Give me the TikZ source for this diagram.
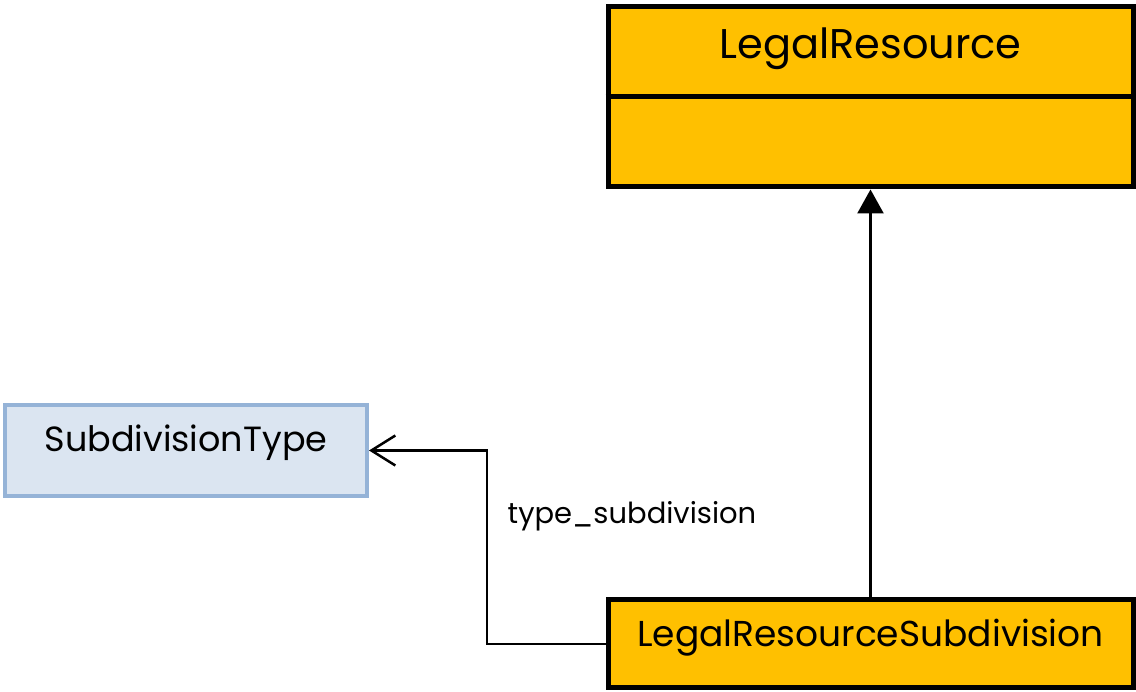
\documentclass[tikz,border=0pt]{standalone}
\usepackage{fontspec}
\setmainfont{Poppins}
\usetikzlibrary{arrows.meta}
\definecolor{classorange}{HTML}{FFC000}
\definecolor{typefill}{HTML}{DBE5F1}
\definecolor{typeline}{HTML}{95B3D7}
\tikzset{
  classbox/.style={draw=black,line width=5pt,fill=classorange,minimum width=525pt},
  typebox/.style={draw=typeline,line width=4pt,fill=typefill,minimum width=362pt,minimum height=91pt},
  boxname/.style={font=\fontsize{#1}{#1}\selectfont,inner sep=0pt},
  assoc/.style={line width=2.5pt,-{Straight Barb[length=24pt,width=30pt,line width=2.5pt]}},
  generalise/.style={line width=2.5pt,-{Triangle[length=24pt,width=26pt]}}
}
\begin{document}
\begin{tikzpicture}
\useasboundingbox (0,0) rectangle (1136pt,692pt);
\node[classbox,minimum height=180pt] at (870.5pt,595pt) (lres) {};
\draw[line width=5pt] (lres.west) -- (lres.east);
\node[boxname=41.5] at (870.5pt,643pt) (lresName) {LegalResource};
\node[classbox,minimum height=88pt] at (870.5pt,48pt) (lresSub) {};
\node[boxname=36] at (870.5pt,54pt) (lresSubName) {LegalResourceSubdivision};
\node[typebox] at (186pt,241.5pt) (subtype) {};
\node[boxname=35] at (186pt,249pt) (subtypeName) {SubdivisionType};
\coordinate (bend) at (487pt,0);
\draw[generalise] (lresSub.north) -- (lresSub.north |- lres.south);
\draw[assoc] (lresSub.west) -- (lresSub.west -| bend) |- (subtype.east);
\node[boxname=29] at (632pt,176pt) (assocName) {type\_subdivision};
\end{tikzpicture}
\end{document}
